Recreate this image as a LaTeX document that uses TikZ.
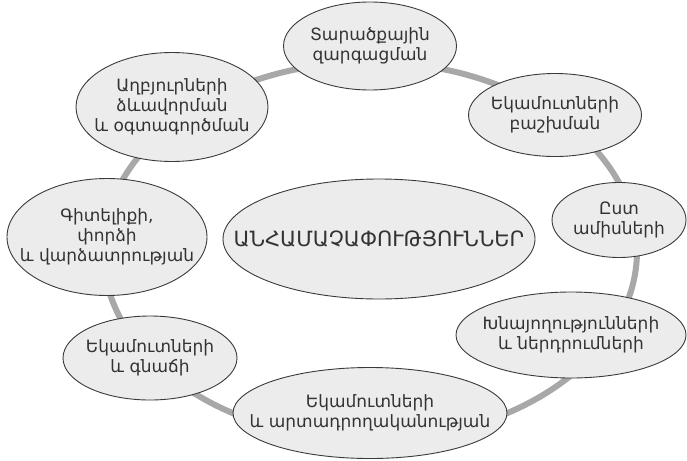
\documentclass[tikz,border=0pt]{standalone}
\usepackage{fontspec}
\setmainfont{DejaVu Sans}
\usetikzlibrary{shapes.geometric}

\definecolor{ringgray}{HTML}{A8A8A8}
\definecolor{ovalfill}{HTML}{ECECEC}
\definecolor{ovalline}{HTML}{3A3A3A}

\tikzset{
  oval/.style={ellipse, draw=ovalline, fill=ovalfill, line width=0.9pt,
    inner xsep=-40pt, inner ysep=0pt, align=center, text=black!80,
    font=\fontsize{17}{20}\selectfont},
  ring/.style={draw=ringgray, line width=6pt}
}

\begin{document}
\begin{tikzpicture}[x=1pt, y=-1pt]
  \useasboundingbox (0,0) rectangle (687,460);

  % ring behind the ovals
  \coordinate (ringc) at (370,251);
  \draw[ring] (ringc) ellipse [x radius=267, y radius=189];

  \node[oval, minimum width=173pt, minimum height=88pt] (terr) at (370,46) {Տարածքային\\զարգացման};
  \node[oval, minimum width=173pt, minimum height=83pt] (distr) at (555,115) {Եկամուտների\\բաշխման};
  \node[oval, minimum width=134pt, minimum height=75pt] (month) at (619,220) {Ըստ\\ամիսների};
  \node[oval, minimum width=230pt, minimum height=86pt] (save) at (571,335) {Խնայողությունների\\և ներդրումների};
  \node[oval, minimum width=274pt, minimum height=91pt] (prod) at (370,413) {Եկամուտների\\և արտադրողականության};
  \node[oval, minimum width=174pt, minimum height=84pt] (infl) at (150,358) {Եկամուտների\\և գնաճի};
  \node[oval, minimum width=200pt, minimum height=117pt] (know) at (107,237) {Գիտելիքի,\\փորձի\\և վարձատրության};
  \node[oval, minimum width=192pt, minimum height=109pt] (src) at (172,107) {Աղբյուրների\\ձևավորման\\և օգտագործման};

  % centre
  \node[oval, inner xsep=-60pt, minimum width=312pt, minimum height=120pt,
    font=\fontsize{21}{24}\selectfont] (ineq) at (379,239) {ԱՆՀԱՄԱՉԱՓՈՒԹՅՈՒՆՆԵՐ};
\end{tikzpicture}
\end{document}
